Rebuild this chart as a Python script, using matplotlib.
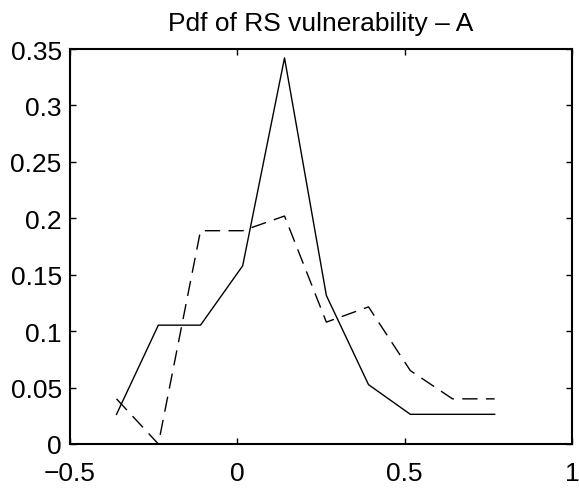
import numpy as np
import matplotlib.pyplot as plt

plt.rcParams['font.family'] = ['Liberation Sans', 'DejaVu Sans']

# bin centres and pdf estimates
x = [-0.361, -0.236, -0.110, 0.016, 0.141, 0.266, 0.392, 0.517, 0.643, 0.769]
pdf_solid = [0.0263, 0.1053, 0.1053, 0.1579, 0.3421, 0.1316, 0.0526, 0.0263, 0.0263, 0.0263]
pdf_dashed = [0.0400, 0.0, 0.1890, 0.1890, 0.2020, 0.1080, 0.1215, 0.0650, 0.0400, 0.0400]

xticks = [-0.5, 0, 0.5, 1]
xticklabels = ['\u22120.5', '0', '0.5', '1']
yticks = [0, 0.05, 0.1, 0.15, 0.2, 0.25, 0.3, 0.35]
yticklabels = ['0', '0.05', '0.1', '0.15', '0.2', '0.25', '0.3', '0.35']

fig = plt.figure(figsize=(5.79, 4.89), dpi=100)
ax = fig.add_axes([70 / 579, 44 / 489, 502 / 579, 395 / 489])

ax.plot(x, pdf_solid, color='black', lw=1.0)
ax.plot(x, pdf_dashed, color='black', lw=1.0, dashes=(11, 6))

ax.set_xlim(-0.5, 1)
ax.set_ylim(0, 0.35)
ax.set_xticks(xticks)
ax.set_xticklabels(xticklabels)
ax.set_yticks(yticks)
ax.set_yticklabels(yticklabels)

ax.tick_params(direction='in', length=4, width=1, labelsize=19,
               top=True, right=True)
ax.tick_params(axis='x', pad=12)
ax.tick_params(axis='y', pad=6)
for s in ax.spines.values():
    s.set_linewidth(1.5)

ax.set_title('Pdf of RS vulnerability \u2013 A', fontsize=19, pad=14)

fig.savefig('out.png', dpi=100)
